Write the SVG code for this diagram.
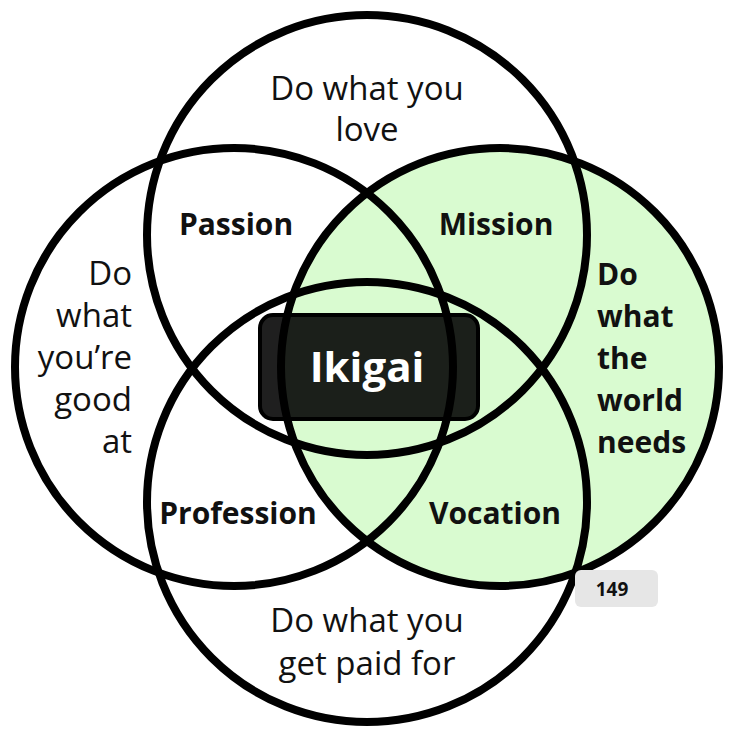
<svg xmlns="http://www.w3.org/2000/svg" width="740" height="740" viewBox="0 0 740 740">
<style>
.c{fill:none;stroke:#000;stroke-width:8}
.t{font-family:"Open Sans",Lato,"Liberation Sans",sans-serif;font-size:33px;fill:#111}
.b{font-family:"Open Sans",Lato,"Liberation Sans",sans-serif;font-size:30px;font-weight:bold;fill:#111}
</style>
<rect width="740" height="740" fill="#fff"/>
<g id="world-fill"><circle cx="500" cy="367" r="219" fill="#d9fbd0"/></g>
<g id="circles">
<circle id="love" class="c" cx="367" cy="235" r="220"/>
<circle id="good" class="c" cx="234" cy="367" r="219"/>
<circle id="world" class="c" cx="500" cy="367" r="219"/>
<circle id="paid" class="c" cx="367" cy="502" r="220"/>
</g>
<g id="ikigai">
<rect x="260" y="315" width="218" height="104" rx="13" fill="#000" fill-opacity="0.88" stroke="#000" stroke-width="4"/>
<text x="367" y="382" text-anchor="middle" style="font-family:'Open Sans',Lato,sans-serif;font-size:42px;font-weight:bold;fill:#fff">Ikigai</text>
</g>
<g id="label-love"><text class="t" x="367" y="100" text-anchor="middle">Do what you</text><text class="t" x="367" y="141" text-anchor="middle">love</text></g>
<g id="label-good" text-anchor="end"><text class="t" x="132" y="285">Do</text><text class="t" x="132" y="327">what</text><text class="t" x="132" y="369">you’re</text><text class="t" x="132" y="411">good</text><text class="t" x="132" y="453">at</text></g>
<g id="label-world"><text class="b" x="597" y="285">Do</text><text class="b" x="597" y="327">what</text><text class="b" x="597" y="369">the</text><text class="b" x="597" y="411">world</text><text class="b" x="597" y="453">needs</text></g>
<g id="label-paid"><text class="t" x="367" y="632" text-anchor="middle">Do what you</text><text class="t" x="367" y="675" text-anchor="middle">get paid for</text></g>
<g id="passion"><text class="b" x="236" y="235" text-anchor="middle">Passion</text></g>
<g id="mission"><text class="b" x="496" y="235" text-anchor="middle">Mission</text></g>
<g id="profession"><text class="b" x="238" y="524" text-anchor="middle">Profession</text></g>
<g id="vocation"><text class="b" x="495" y="524" text-anchor="middle">Vocation</text></g>
<g id="badge">
<rect x="575" y="570" width="83" height="37" rx="6" fill="#e6e6e6"/>
<text x="612" y="596" text-anchor="middle" style="font-family:'Open Sans',Lato,sans-serif;font-size:19px;font-weight:bold;fill:#111">149</text>
</g>
</svg>
